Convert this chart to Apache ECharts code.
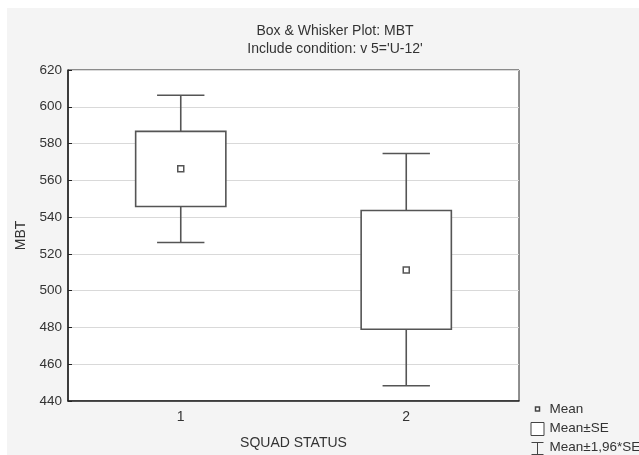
<!DOCTYPE html>
<html>
<head>
<meta charset="utf-8">
<script src="https://cdn.jsdelivr.net/npm/echarts@6/dist/echarts.min.js"></script>
<style>html,body{margin:0;padding:0;background:#f4f4f4;}#c{width:639px;height:455px;}</style>
</head>
<body>
<div id="c"></div>
<script>
const categories = ['1', '2'];
const means = [566.3, 511.2];
const seLow = [545.8, 479.0];
const seHigh = [586.6, 543.6];
const ciLow = [526.2, 448.3];
const ciHigh = [606.3, 574.6];
const yTicks = {min: 440, max: 620, step: 20};

const LINE = '#555';
const chart = echarts.init(document.getElementById('c'), null, {renderer: 'canvas'});

const whiskerData = categories.map((c, i) => [i, ciLow[i], seLow[i], seHigh[i], ciHigh[i]]);
const boxData = categories.map((c, i) => [i, seLow[i], seHigh[i]]);
const meanData = categories.map((c, i) => [i, means[i]]);

const font = 'Liberation Sans, Arial, sans-serif';

chart.setOption({
  backgroundColor: '#f4f4f4',
  animation: false,
  textStyle: {fontFamily: font},
  title: [
    {text: 'Box & Whisker Plot: MBT', left: 330, top: 19, textAlign: 'center',
     textStyle: {fontSize: 14, fontWeight: 'normal', color: '#333', fontFamily: font}},
    {text: "Include condition: v 5='U-12'", left: 330, top: 37, textAlign: 'center',
     textStyle: {fontSize: 14, fontWeight: 'normal', color: '#333', fontFamily: font}}
  ],
  grid: {left: 68, right: 120, top: 70, bottom: 49, show: true, backgroundColor: '#fff',
         borderColor: '#222', borderWidth: 1},
  xAxis: {
    type: 'category', data: categories, boundaryGap: true,
    name: 'SQUAD STATUS', nameLocation: 'middle', nameGap: 35,
    nameTextStyle: {fontSize: 14, color: '#333'},
    axisLine: {lineStyle: {color: '#222', width: 1.5}},
    axisTick: {inside: true, alignWithLabel: true, length: 4, lineStyle: {color: '#222'}},
    axisLabel: {fontSize: 14, color: '#333', margin: 9},
    splitLine: {show: false}
  },
  yAxis: {
    type: 'value', min: yTicks.min, max: yTicks.max, interval: yTicks.step,
    name: 'MBT', nameLocation: 'middle', nameGap: 39,
    nameTextStyle: {fontSize: 14, color: '#333'},
    axisLine: {show: true, lineStyle: {color: '#222', width: 1.5}},
    axisTick: {show: true, inside: true, length: 4, lineStyle: {color: '#222'}},
    axisLabel: {fontSize: 13.5, color: '#333', margin: 6},
    splitLine: {show: true, lineStyle: {color: '#d9d9d9', width: 1}}
  },
  series: [
    {
      name: 'Mean±1,96*SE', type: 'custom', data: whiskerData, z: 2,
      encode: {x: 0, y: [1, 2, 3, 4]},
      renderItem: function (params, api) {
        const i = api.value(0);
        const band = api.size([1, 0])[0];
        const pLo = api.coord([i, api.value(1)]);
        const pBl = api.coord([i, api.value(2)]);
        const pBh = api.coord([i, api.value(3)]);
        const pHi = api.coord([i, api.value(4)]);
        const cap = band * 0.105;
        const st = {stroke: LINE, lineWidth: 1.6};
        return {type: 'group', children: [
          {type: 'line', shape: {x1: pLo[0], y1: pLo[1], x2: pBl[0], y2: pBl[1]}, style: st},
          {type: 'line', shape: {x1: pHi[0], y1: pHi[1], x2: pBh[0], y2: pBh[1]}, style: st},
          {type: 'line', shape: {x1: pLo[0] - cap, y1: pLo[1], x2: pLo[0] + cap, y2: pLo[1]}, style: st},
          {type: 'line', shape: {x1: pHi[0] - cap, y1: pHi[1], x2: pHi[0] + cap, y2: pHi[1]}, style: st}
        ]};
      }
    },
    {
      name: 'Mean±SE', type: 'custom', data: boxData, z: 3,
      encode: {x: 0, y: [1, 2]},
      renderItem: function (params, api) {
        const i = api.value(0);
        const band = api.size([1, 0])[0];
        const pL = api.coord([i, api.value(1)]);
        const pH = api.coord([i, api.value(2)]);
        const w = band * 0.4;
        return {type: 'rect', shape: {x: pL[0] - w / 2, y: pH[1], width: w, height: pL[1] - pH[1]},
                style: {fill: '#fff', stroke: LINE, lineWidth: 1.6}};
      }
    },
    {
      name: 'Mean', type: 'scatter', data: meanData, z: 4,
      symbol: 'rect', symbolSize: 6,
      itemStyle: {color: '#fff', borderColor: LINE, borderWidth: 1.5, opacity: 1}
    }
  ],
  graphic: [
    {type: 'rect', left: 0, top: 0, shape: {width: 639, height: 8}, style: {fill: '#fff'}, silent: true},
    {type: 'rect', left: 0, top: 0, shape: {width: 7, height: 455}, style: {fill: '#fff'}, silent: true},
    {type: 'group', left: 529, top: 402, children: [
      {type: 'rect', shape: {x: 5, y: 5, width: 4, height: 4}, style: {fill: '#fff', stroke: '#444', lineWidth: 1.5}},
      {type: 'text', x: 19, y: 0, style: {text: 'Mean', fontSize: 13.5, fill: '#333', fontFamily: font}},
      {type: 'rect', shape: {x: 0.5, y: 20.5, width: 13, height: 13}, style: {fill: '#fff', stroke: '#444', lineWidth: 1}},
      {type: 'text', x: 19, y: 19, style: {text: 'Mean±SE', fontSize: 13.5, fill: '#333', fontFamily: font}},
      {type: 'line', shape: {x1: 1, y1: 40.5, x2: 13, y2: 40.5}, style: {stroke: '#444', lineWidth: 1}},
      {type: 'line', shape: {x1: 7, y1: 40.5, x2: 7, y2: 52}, style: {stroke: '#444', lineWidth: 1}},
      {type: 'line', shape: {x1: 1, y1: 52.5, x2: 13, y2: 52.5}, style: {stroke: '#444', lineWidth: 1}},
      {type: 'text', x: 19, y: 38, style: {text: 'Mean±1,96*SE', fontSize: 13.5, fill: '#333', fontFamily: font}}
    ]}
  ]
});
</script>
</body>
</html>
